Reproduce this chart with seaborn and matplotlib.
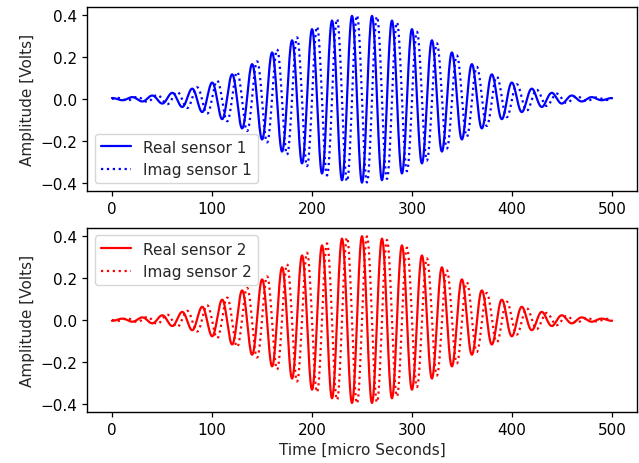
import numpy as np
import pandas as pd
import matplotlib
matplotlib.use("Agg")
import matplotlib.pyplot as plt
import seaborn as sns

# Parameters (Gaussian-modulated carrier per sensor)
sensors = ["sensor 1", "sensor 2"]
colors = ["blue", "red"]
amplitude = [0.40, 0.40]          # Volts, envelope peak
envelope_center = [250.0, 250.0]  # micro seconds
envelope_sigma = [83.0, 83.0]     # micro seconds
carrier_period = [20.0, 20.0]     # micro seconds
real_peak_time = [240.0, 250.0]   # a crest of the real part
t_start, t_stop, n_samples = 0.0, 500.0, 1001

x_ticks = [0, 100, 200, 300, 400, 500]
y_ticks = [-0.4, -0.2, 0.0, 0.2, 0.4]
legend_locs = ["lower left", "upper left"]

sns.set_theme(style="ticks", rc={
    "axes.edgecolor": "black", "xtick.color": "black", "ytick.color": "black",
    "axes.labelcolor": "#262626", "font.size": 11, "axes.labelsize": 11,
    "xtick.labelsize": 11, "ytick.labelsize": 11, "legend.fontsize": 11,
    "axes.linewidth": 1.0, "xtick.major.size": 3.5, "ytick.major.size": 3.5,
    "xtick.major.width": 0.9, "ytick.major.width": 0.9,
})
plt.rcParams["font.family"] = ["DejaVu Sans"]

fig, axes = plt.subplots(2, 1, figsize=(6.39, 4.64), dpi=100)
fig.subplots_adjust(left=0.136, right=0.997, top=0.983, bottom=0.11, hspace=0.2)

t = np.linspace(t_start, t_stop, n_samples)
for i, ax in enumerate(axes):
    env = amplitude[i] * np.exp(-((t - envelope_center[i]) ** 2) / (2 * envelope_sigma[i] ** 2))
    phase = 2 * np.pi * (t - real_peak_time[i]) / carrier_period[i]
    df = pd.DataFrame({"time": t, "real": env * np.cos(phase), "imag": env * np.sin(phase)})
    sns.lineplot(data=df, x="time", y="real", ax=ax, color=colors[i], linewidth=1.6,
                 label=f"Real {sensors[i]}")
    sns.lineplot(data=df, x="time", y="imag", ax=ax, color=colors[i], linewidth=1.6,
                 linestyle=":", label=f"Imag {sensors[i]}")
    ax.set_xticks(x_ticks)
    ax.set_yticks(y_ticks)
    ax.set_xlim(-25, 525)
    ax.set_ylim(-0.44, 0.44)
    ax.set_ylabel("Amplitude [Volts]")
    ax.set_xlabel("")
    for s in ax.spines.values():
        s.set_visible(True)
    ax.legend(loc=legend_locs[i], frameon=True, fancybox=True, framealpha=0.8,
              edgecolor="#cccccc", handlelength=2.0)

axes[1].set_xlabel("Time [micro Seconds]")
fig.savefig("out.png", dpi=100)
